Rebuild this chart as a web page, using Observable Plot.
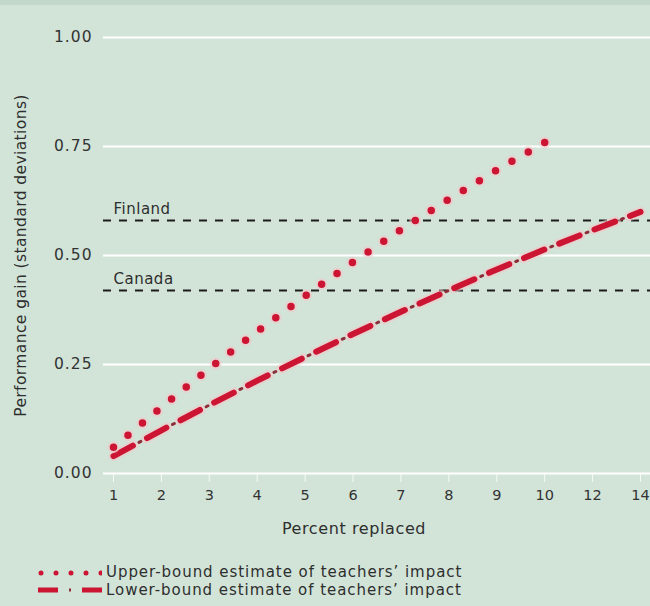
<!DOCTYPE html>
<html>
<head>
<meta charset="utf-8">
<script src="https://cdn.jsdelivr.net/npm/d3@7"></script>
<script src="https://cdn.jsdelivr.net/npm/@observablehq/plot@0.6"></script>
<style>
  html, body { margin: 0; padding: 0; background: #d2e4d8; }
  #wrap { position: relative; width: 650px; height: 606px; overflow: hidden; background: #d2e4d8; font-family: "DejaVu Sans", sans-serif; }
  #strip { position: absolute; left: 0; top: 0; width: 650px; height: 5px; background: #c2d8ca; }
  #legend { position: absolute; left: 38px; top: 564px; font-size: 15px; letter-spacing: 0.95px; color: #2e2e2e; }
  .row { display: flex; align-items: center; height: 17.5px; line-height: 17.5px; white-space: nowrap; }
  .row svg { margin-right: 4px; display: block; }
</style>
</head>
<body>
<div id="wrap">
  <div id="chart"></div>
  <div id="strip"></div>
  <div id="legend"></div>
</div>
<script>
// ---- data ----
const percents = [1, 2, 3, 4, 5, 6, 7, 8, 9, 10, 12, 14];
const upperX = [1, 2, 3, 4, 5, 6, 7, 8, 9, 10];
const upperY = [0.06, 0.152, 0.241, 0.326, 0.407, 0.485, 0.559, 0.629, 0.696, 0.759];
const lowerX = [1, 2, 3, 4, 5, 6, 7, 8, 9, 10, 12, 14];
const lowerY = [0.04, 0.099, 0.157, 0.213, 0.267, 0.320, 0.371, 0.420, 0.468, 0.514, 0.558, 0.600];
const benchmarkNames = ["Finland", "Canada"];
const benchmarkValues = [0.58, 0.42];
const yTicks = [0, 0.25, 0.5, 0.75, 1];
const seriesNames = ["Upper-bound estimate of teachers\u2019 impact", "Lower-bound estimate of teachers\u2019 impact"];
const yLabel = "Performance gain (standard deviations)";
const xLabel = "Percent replaced";

const upper = upperX.map((x, i) => ({x, y: upperY[i]}));
const lower = lowerX.map((x, i) => ({x, y: lowerY[i]}));
const benchmarks = benchmarkNames.map((name, i) => ({name, value: benchmarkValues[i]}));

const red = "#cc1533";
const tickRed = "#8c2f38";
const halo = "#f2c4c8";
const dotGap = 18.9;

const chart = Plot.plot({
  width: 650,
  height: 560,
  marginTop: 37,
  marginBottom: 87,
  marginLeft: 103,
  marginRight: 0,
  style: { background: "transparent", fontFamily: "'DejaVu Sans', sans-serif", fontSize: "13px", color: "#333" },
  x: { type: "point", domain: percents, range: [113, 640], padding: 0, round: false },
  y: { domain: [0, 1], range: [473, 37] },
  marks: [
    Plot.ruleY(yTicks, { stroke: "white", strokeWidth: 2.2 }),
    Plot.axisY(yTicks, { tickSize: 0, tickPadding: 11, tickFormat: d3.format(".2f"), fill: "#333", fontSize: 15.5, label: null, ariaDescription: "ytick" }),
    Plot.axisX(percents, { tickSize: 9, tickPadding: 7, stroke: "white", strokeOpacity: 0.8, fill: "#333", fontSize: 14.5, label: null, ariaDescription: "xtick" }),
    Plot.ruleY(benchmarks, { y: "value", stroke: "#1c1c1c", strokeWidth: 2, strokeDasharray: "8 8" }),
    Plot.text(benchmarks, { x: () => 1, y: "value", text: "name", textAnchor: "start", dy: -11, fontSize: 15, fill: "#2e2e2e", ariaDescription: "bench" }),
    Plot.line(lower, { x: "x", y: "y", stroke: halo, strokeWidth: 10, strokeDasharray: "24 14", strokeDashoffset: 1, strokeOpacity: 0.55 }),
    Plot.line(lower, { x: "x", y: "y", stroke: red, strokeWidth: 6, strokeDasharray: "22 16" }),
    Plot.line(lower, { x: "x", y: "y", stroke: tickRed, strokeWidth: 3, strokeDasharray: "2 36", strokeDashoffset: -29 }),
    Plot.line(upper, { x: "x", y: "y", stroke: halo, strokeWidth: 12, strokeDasharray: `0 ${dotGap}`, strokeLinecap: "round", strokeOpacity: 0.55, ariaDescription: "upper" }),
    Plot.line(upper, { x: "x", y: "y", stroke: red, strokeWidth: 7.5, strokeDasharray: `0 ${dotGap}`, strokeLinecap: "round", ariaDescription: "upper" }),
    Plot.text([yLabel], { frameAnchor: "left", textAnchor: "middle", dx: -82, rotate: -90, fontSize: 15.5, fill: "#2e2e2e", ariaDescription: "ylabel" }),
    Plot.text([xLabel], { frameAnchor: "bottom", dx: -23, dy: 60, fontSize: 16, fill: "#2e2e2e", ariaDescription: "xlabel" })
  ]
});
document.getElementById("chart").appendChild(chart);

const svg = d3.select(chart);
// letter spacing to match the wide typeface of the original
const spacing = { ytick: "1px", bench: "0.5px", ylabel: "0.4px", xlabel: "0.6px" };
Object.entries(spacing).forEach(([k, v]) => {
  svg.selectAll(`[aria-description="${k}"] text`).style("letter-spacing", v);
});
// make the dotted line end exactly on a dot
svg.selectAll('[aria-description="upper"] path').each(function () {
  const L = this.getTotalLength();
  const n = Math.max(1, Math.round(L / dotGap));
  const g = L / n;
  d3.select(this).attr("stroke-dasharray", `0 ${g - 0.001} 0.001 0`).attr("stroke-dasharray", `0 ${g}`);
});

// legend
const legend = d3.select("#legend");
seriesNames.forEach((name, i) => {
  const row = legend.append("div").attr("class", "row");
  const s = row.append("svg").attr("width", 64).attr("height", 14);
  if (i === 0) {
    s.append("line")
      .attr("x1", 3).attr("x2", 64).attr("y1", 7).attr("y2", 7)
      .attr("stroke", red).attr("stroke-width", 5)
      .attr("stroke-dasharray", "0 15").attr("stroke-linecap", "round");
  } else {
    s.append("line").attr("x1", 0).attr("x2", 64).attr("y1", 7).attr("y2", 7)
      .attr("stroke", red).attr("stroke-width", 5).attr("stroke-dasharray", "20 24 20");
    s.append("line").attr("x1", 31).attr("x2", 33).attr("y1", 7).attr("y2", 7)
      .attr("stroke", tickRed).attr("stroke-width", 3);
  }
  row.append("span").text(name);
});
</script>
</body>
</html>
